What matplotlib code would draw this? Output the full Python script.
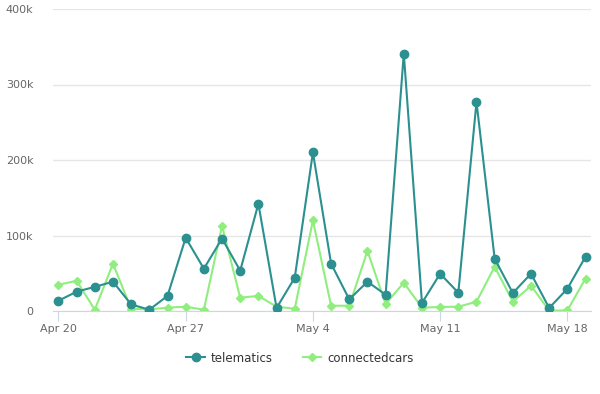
import matplotlib.pyplot as plt
import matplotlib.dates as mdates
import numpy as np
import datetime as dt

# daily values, Apr 20 to May 19
start = dt.date(2020, 4, 20)
days = [start + dt.timedelta(days=i) for i in range(30)]

telematics = [13.6, 25.6, 32, 38.8, 8.7, 1.7, 20, 97, 56, 96,
              53.4, 142, 4, 44, 210, 62.7, 15.4, 38.8, 21.6, 341,
              10.6, 49.4, 24.2, 277, 69.3, 23.8, 49.4, 4, 29.5, 72]
connectedcars = [34.8, 40, 1.7, 62.7, 3, 2.2, 4.4, 5.7, 1.7, 113,
                 17.6, 20, 5.7, 3, 120, 7, 7, 79.5, 9.3, 37.5,
                 4.4, 5.3, 5.7, 12.3, 58.7, 12.3, 33.5, 0.4, 0.8, 43]

telematics = np.array(telematics) * 1000
connectedcars = np.array(connectedcars) * 1000

fig = plt.figure(figsize=(6, 3.94), dpi=100)
ax = fig.add_axes([53/600, 83/394, 538/600, 302/394])

ax.plot(days, telematics, color='#2b908f', linewidth=1.5, marker='o',
        markersize=6, label='telematics', zorder=3)
ax.plot(days, connectedcars, color='#90ee7e', linewidth=1.5, marker='D',
        markersize=4, label='connectedcars', zorder=2)

ax.set_ylim(0, 400000)
ax.set_yticks([0, 100000, 200000, 300000, 400000])
ax.set_yticklabels(['0', '100k', '200k', '300k', '400k'])
ax.set_xlim(mdates.date2num(days[0]) - 0.3, mdates.date2num(days[-1]) + 0.3)
ticks = [days[0] + dt.timedelta(days=7 * i) for i in range(5)]
ax.set_xticks(ticks)
ax.set_xticklabels([d.strftime('%b %-d') for d in ticks])

ax.grid(axis='y', color='#e6e6e6', linewidth=1)
ax.set_axisbelow(True)
for s in ['top', 'right', 'left']:
    ax.spines[s].set_visible(False)
ax.spines['bottom'].set_color('#ccd6eb')
ax.tick_params(axis='y', length=0, pad=14, labelsize=8, labelcolor='#666666')
ax.tick_params(axis='x', length=7, color='#ccd6eb', pad=2, labelsize=8,
               labelcolor='#666666')

leg = fig.legend(loc='center', bbox_to_anchor=(0.5, 1 - 358/394), ncol=2,
                 frameon=False, fontsize=8.5, handlelength=1.6,
                 handletextpad=0.5, columnspacing=2.5)
for t in leg.get_texts():
    t.set_color('#333333')

fig.savefig('out.png', dpi=100)
